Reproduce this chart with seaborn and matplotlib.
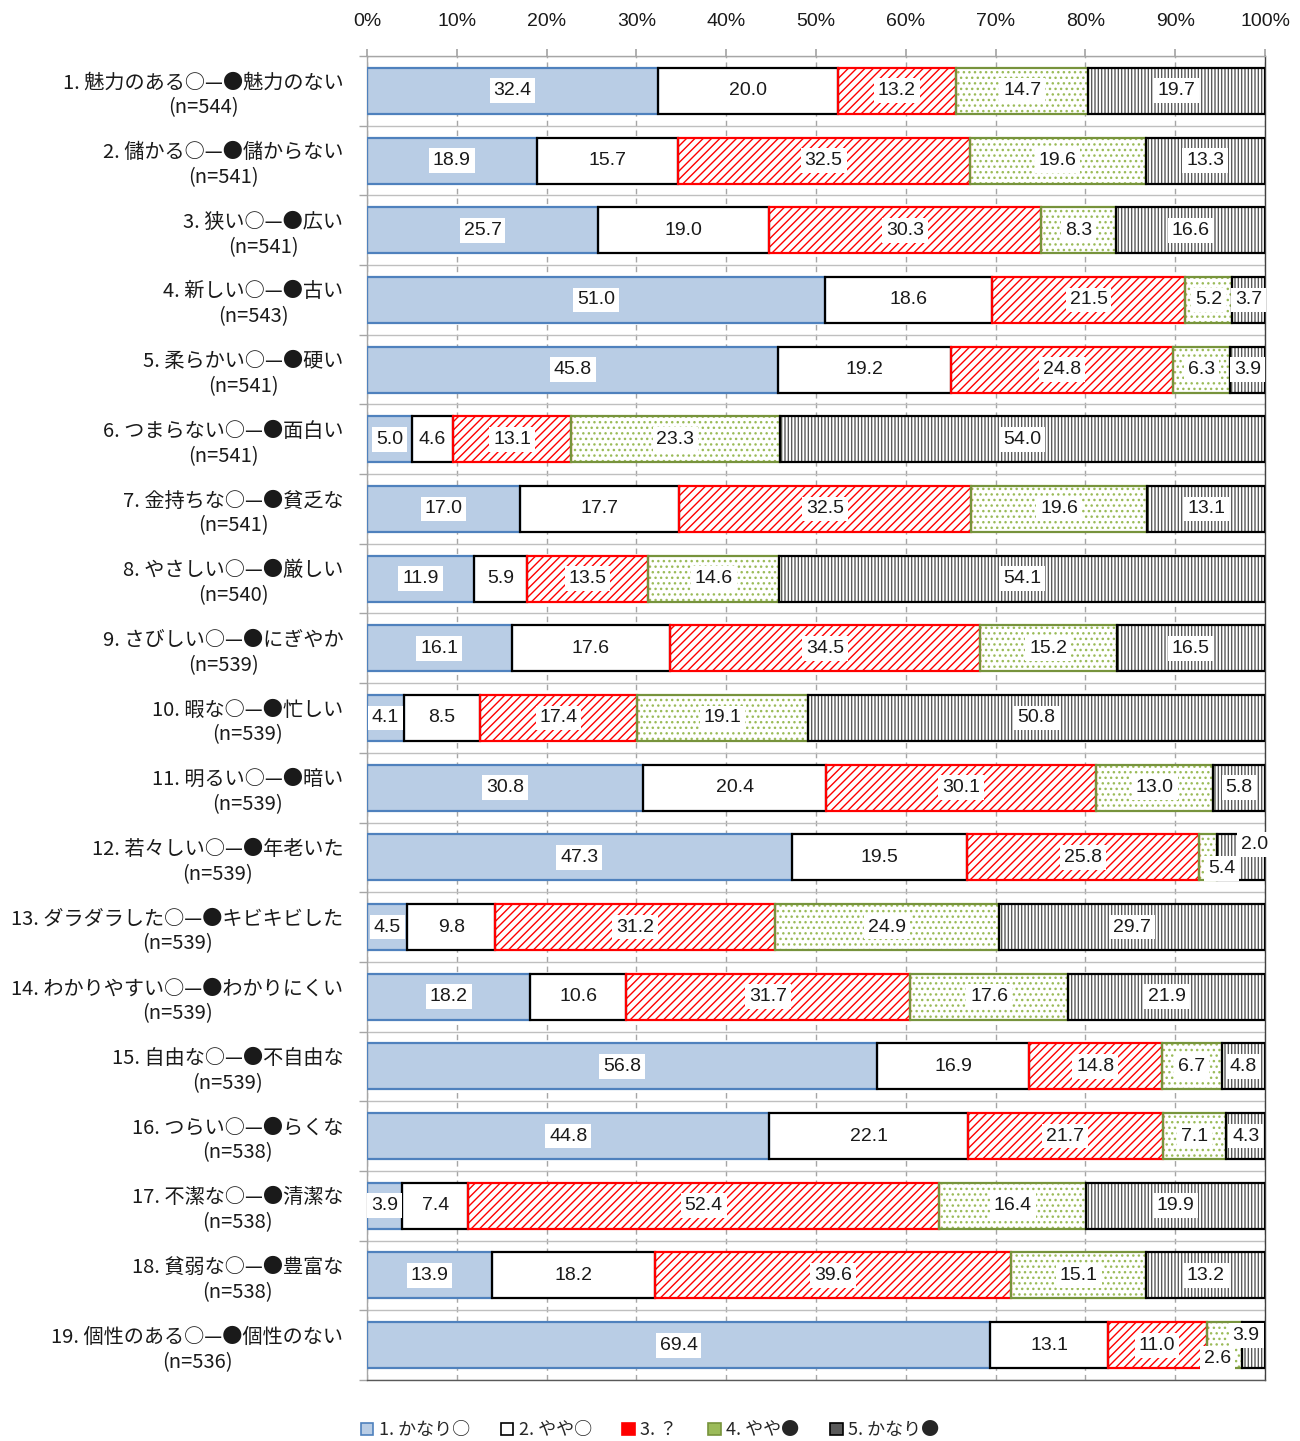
import matplotlib
matplotlib.use('Agg')
import matplotlib.pyplot as plt
import seaborn as sns
import numpy as np
from matplotlib.patches import Patch

# Semantic differential items (top to bottom)
items = ['1. 魅力のある○—●魅力のない', '2. 儲かる○—●儲からない', '3. 狭い○—●広い',
         '4. 新しい○—●古い', '5. 柔らかい○—●硬い', '6. つまらない○—●面白い',
         '7. 金持ちな○—●貧乏な', '8. やさしい○—●厳しい', '9. さびしい○—●にぎやか',
         '10. 暇な○—●忙しい', '11. 明るい○—●暗い', '12. 若々しい○—●年老いた',
         '13. ダラダラした○—●キビキビした', '14. わかりやすい○—●わかりにくい',
         '15. 自由な○—●不自由な', '16. つらい○—●らくな', '17. 不潔な○—●清潔な',
         '18. 貧弱な○—●豊富な', '19. 個性のある○—●個性のない']
n_sizes = [544, 541, 541, 543, 541, 541, 541, 540, 539, 539,
           539, 539, 539, 539, 539, 538, 538, 538, 536]

# Percentages per answer
kanari_maru = [32.4, 18.9, 25.7, 51.0, 45.8, 5.0, 17.0, 11.9, 16.1, 4.1,
               30.8, 47.3, 4.5, 18.2, 56.8, 44.8, 3.9, 13.9, 69.4]
yaya_maru = [20.0, 15.7, 19.0, 18.6, 19.2, 4.6, 17.7, 5.9, 17.6, 8.5,
             20.4, 19.5, 9.8, 10.6, 16.9, 22.1, 7.4, 18.2, 13.1]
hatena = [13.2, 32.5, 30.3, 21.5, 24.8, 13.1, 32.5, 13.5, 34.5, 17.4,
          30.1, 25.8, 31.2, 31.7, 14.8, 21.7, 52.4, 39.6, 11.0]
yaya_kuro = [14.7, 19.6, 8.3, 5.2, 6.3, 23.3, 19.6, 14.6, 15.2, 19.1,
             13.0, 2.0, 24.9, 17.6, 6.7, 7.1, 16.4, 15.1, 3.9]
kanari_kuro = [19.7, 13.3, 16.6, 3.7, 3.9, 54.0, 13.1, 54.1, 16.5, 50.8,
               5.8, 5.4, 29.7, 21.9, 4.8, 4.3, 19.9, 13.2, 2.6]

legend_labels = ['1. かなり○', '2. やや○', '3. ？', '4. やや●', '5. かなり●']

series = [kanari_maru, yaya_maru, hatena, yaya_kuro, kanari_kuro]
# fill, hatch colour, hatch, edge colour
styles = [('#B9CDE5', '#B9CDE5', None, '#4F81BD'),
          ('white', 'white', None, 'black'),
          ('white', '#FF0000', '////', '#FF0000'),
          ('white', '#9BBB59', '...', '#77933C'),
          ('white', '#595959', '|||||', 'black')]

# small nudges for labels of tiny segments (pixels, +y = up)
label_nudge = {(11, 3): (47, 13), (11, 4): (-19, -11),
               (18, 3): (22, 10), (18, 4): (-36, -13)}

sns.set_theme(style='white')
plt.rcParams['font.family'] = ['Noto Sans CJK JP', 'DejaVu Sans']
plt.rcParams['hatch.linewidth'] = 1.0
num_font = ['Liberation Sans', 'DejaVu Sans']

labels = [f'{it}\n(n={n})' for it, n in zip(items, n_sizes)]
vals = np.array(series)
# 100% stacked: scale each row to a total of 100
shares = vals / vals.sum(axis=0) * 100
cum = np.cumsum(shares, axis=0)
nrow = len(items)
bar_h = 0.66

fig = plt.figure(figsize=(13, 14.41), dpi=100)
ax = fig.add_axes([367 / 1300, 1 - 1380 / 1441, 898 / 1300, 1324 / 1441])

# hatched fills: draw cumulative bars from the longest to the shortest
for k in range(4, -1, -1):
    sns.barplot(x=cum[k], y=labels, orient='h', width=bar_h, errorbar=None,
                color=styles[k][0], ax=ax)
    for p in ax.containers[-1]:
        p.set_facecolor(styles[k][0])
        p.set_edgecolor(styles[k][1])
        p.set_linewidth(0)
        if styles[k][2]:
            p.set_hatch(styles[k][2])

# segment outlines
ypos = np.arange(nrow)
for k in range(5):
    left = cum[k] - shares[k]
    ax.barh(ypos, shares[k], left=left, height=bar_h, fill=False,
            edgecolor=styles[k][3], linewidth=1.6, zorder=3)

# value labels
for k in range(5):
    for i in range(nrow):
        dx, dy = label_nudge.get((i, k), (0, 0))
        ax.annotate(f'{vals[k][i]:.1f}', xy=(cum[k][i] - shares[k][i] / 2, i),
                    xytext=(dx, dy), textcoords='offset pixels', ha='center',
                    va='center', fontsize=14, family=num_font, color='#1a1a1a',
                    zorder=5,
                    bbox=dict(boxstyle='square,pad=0.2', fc='white', ec='none'))

ax.set_xlim(0, 100)
ax.set_ylim(nrow - 0.5, -0.5)
ax.xaxis.tick_top()
ax.set_xticks(np.arange(0, 101, 10))
ax.set_xticklabels([f'{t}%' for t in range(0, 101, 10)], family=num_font)
ax.set_yticks(np.arange(-0.5, nrow, 1), minor=True)
ax.tick_params(axis='x', which='both', top=True, bottom=False, length=5,
               color='#A6A6A6', pad=14, labelsize=14, labelcolor='#1a1a1a')
ax.tick_params(axis='y', which='major', length=0, pad=17, labelsize=14.5,
               labelcolor='#1a1a1a')
ax.tick_params(axis='y', which='minor', left=True, length=6, color='#A6A6A6')
for lbl in ax.get_yticklabels():
    lbl.set_multialignment('center')
    lbl.set_linespacing(1.25)
ax.set_xlabel('')
ax.set_ylabel('')

ax.set_axisbelow(True)
ax.grid(axis='x', which='major', linestyle=(0, (4, 3)), color='#A6A6A6', lw=1)
ax.grid(axis='y', which='major', visible=False)
ax.grid(axis='y', which='minor', color='#BFBFBF', lw=1)

for side, col in [('left', '#A6A6A6'), ('top', '#A6A6A6'),
                  ('bottom', '#595959'), ('right', '#404040')]:
    ax.spines[side].set_visible(True)
    ax.spines[side].set_color(col)
    ax.spines[side].set_linewidth(1)

handles = [Patch(facecolor=s[1] if s[2] else s[0], edgecolor=s[3],
                 linewidth=1.2) for s in styles]
fig.legend(handles, legend_labels, loc='lower center', bbox_to_anchor=(0.5, -0.01),
           ncol=5, frameon=False, fontsize=13, handlelength=0.7, handleheight=0.7,
           handletextpad=0.3, columnspacing=1.7)

fig.savefig('out.png', dpi=100)
